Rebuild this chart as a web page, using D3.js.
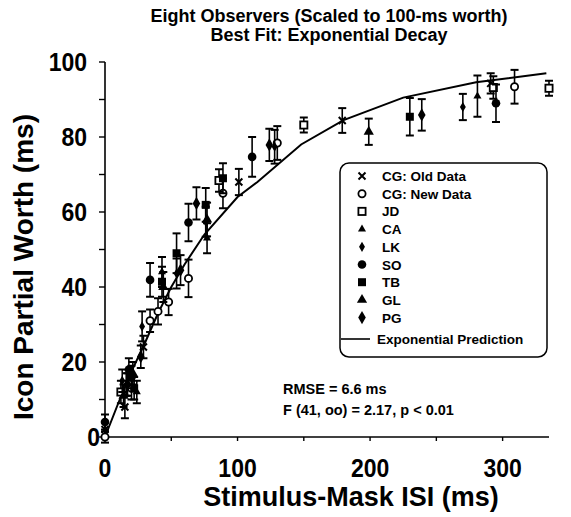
<!DOCTYPE html>
<html>
<head>
<meta charset="utf-8">
<script src="https://cdn.jsdelivr.net/npm/d3@7"></script>
<style>
  body { margin: 0; background: #fff; }
  svg { display: block; font-family: "Liberation Sans", Arial, Helvetica, sans-serif; }
</style>
</head>
<body>
<svg id="chart" width="571" height="517"></svg>
<script>
// Observers and their markers, in legend order
const observers = ["CG: Old Data", "CG: New Data", "JD", "CA", "LK", "SO", "TB", "GL", "PG"];
const markers   = ["cross", "openCircle", "openSquare", "smallTriangle", "smallDot", "dot", "square", "triangle", "diamond"];

// [ISI (ms), partial worth (ms), error half-width (ms)] per observer
const cgOld = [[0, 2, 2], [15, 8, 3], [29, 24, 3], [101, 68, 3.5], [179, 84.4, 3.3], [291, 94.3, 2.7]];
const cgNew = [[0, 0, 1.5], [20, 13, 3], [34, 31, 3], [40, 33.5, 3.5], [48, 36, 3.5], [63, 42.3, 5], [89, 65, 4], [130, 78.4, 4.5], [309, 93.4, 4.5]];
const jd    = [[12, 12, 3], [86, 68.4, 3], [150, 83.2, 2], [293, 93.2, 3], [335, 93, 2]];
const ca    = [[16, 14, 3], [24, 12, 3], [43, 44, 4], [77, 53, 4], [281, 90.9, 5.5]];
const lk    = [[13, 15, 3], [28, 29.5, 4], [54, 43.6, 4], [76, 57.4, 4], [128, 77.4, 4.5], [270, 88, 3.5]];
const so    = [[0, 4, 2], [18, 18, 3], [20, 16, 3], [34, 41.9, 4.5], [63, 57.2, 5], [111, 74.7, 5.3], [295, 89, 5]];
const tb    = [[22, 13, 3], [43, 41.4, 4], [54, 49, 5.3], [76, 61.9, 4.5], [89, 69, 4], [230, 85.4, 5]];
const gl    = [[14, 11, 3], [21, 17, 3], [44, 40, 4], [77, 58, 4.5], [199, 81.4, 3.5]];
const pg    = [[17, 14, 3], [27, 21.4, 3], [57, 44.5, 4], [69, 62.3, 4.3], [124, 77.9, 4.3], [239, 85.9, 4.2]];
const seriesValues = [cgOld, cgNew, jd, ca, lk, so, tb, gl, pg];

// Exponential prediction, [ISI, worth]
const prediction = [[0, 0], [10, 9], [20, 17.5], [30, 25], [40, 33], [50, 40], [60, 46], [75, 54], [100, 64],
                    [115, 68], [148, 78], [180, 84.5], [225, 90.5], [280, 94.6], [333, 97]];

const xTicks = [0, 100, 200, 300];
const xMinorTicks = [50, 150, 250];
const yTicks = [0, 20, 40, 60, 80, 100];
const yMinorTicks = [10, 30, 50, 70, 90];

const titleLines = ["Eight Observers (Scaled to 100-ms worth)", "Best Fit: Exponential Decay"];
const statsLines = ["RMSE = 6.6 ms", "F (41, oo) = 2.17, p < 0.01"];

const svg = d3.select("#chart");
const x = d3.scaleLinear().domain([0, 335]).range([105, 549]);
const y = d3.scaleLinear().domain([0, 100]).range([437, 62]);

// Title
svg.selectAll("text.title").data(titleLines).join("text")
  .attr("class", "title")
  .attr("x", 329).attr("y", (d, i) => 22 + i * 19)
  .attr("text-anchor", "middle")
  .attr("font-size", 18).attr("font-weight", "bold")
  .text(d => d);

// Axes
const g = svg.append("g");
g.append("line").attr("x1", x(0)).attr("x2", x(0)).attr("y1", y(0)).attr("y2", y(100))
  .attr("stroke", "#000").attr("stroke-width", 1.6);
g.append("line").attr("x1", x(0)).attr("x2", x(335)).attr("y1", y(0)).attr("y2", y(0))
  .attr("stroke", "#000").attr("stroke-width", 1.6);

g.selectAll("line.ytick").data(yTicks.concat(yMinorTicks)).join("line")
  .attr("x1", x(0) - 6).attr("x2", x(0)).attr("y1", d => y(d)).attr("y2", d => y(d))
  .attr("stroke", "#000").attr("stroke-width", 1.4);
g.selectAll("line.xtick").data(xTicks.concat(xMinorTicks)).join("line")
  .attr("x1", d => x(d)).attr("x2", d => x(d)).attr("y1", y(0)).attr("y2", y(0) + 4)
  .attr("stroke", "#000").attr("stroke-width", 1.4);

// Tick labels, slightly tall lettering
g.selectAll("text.ylab").data(yTicks).join("text")
  .attr("transform", d => `translate(${d === 0 ? x(0) - 5 : x(0) - 18},${y(d) + 9}) scale(1,1.15)`)
  .attr("text-anchor", "end").attr("font-size", 23).attr("font-weight", "bold")
  .text(d => d);
g.selectAll("text.xlab").data(xTicks).join("text")
  .attr("transform", d => `translate(${x(d)},477) scale(1,1.15)`)
  .attr("text-anchor", "middle").attr("font-size", 23).attr("font-weight", "bold")
  .text(d => d);

svg.append("text").attr("x", 351).attr("y", 506)
  .attr("text-anchor", "middle").attr("font-size", 27).attr("font-weight", "bold")
  .text("Stimulus-Mask ISI (ms)");
svg.append("text").attr("transform", "translate(33,267) rotate(-90)")
  .attr("text-anchor", "middle").attr("font-size", 28).attr("font-weight", "bold")
  .text("Icon Partial Worth (ms)");

// Exponential prediction curve
svg.append("path").datum(prediction)
  .attr("d", d3.line().x(d => x(d[0])).y(d => y(d[1])))
  .attr("fill", "none").attr("stroke", "#000").attr("stroke-width", 2);

// Marker drawing
function drawMarker(sel, type) {
  switch (type) {
    case "cross":
      sel.append("path").attr("d", "M-3.5,-3.5L3.5,3.5M-3.5,3.5L3.5,-3.5")
        .attr("stroke", "#000").attr("stroke-width", 2).attr("fill", "none");
      break;
    case "openCircle":
      sel.append("circle").attr("r", 3.6).attr("fill", "#fff").attr("stroke", "#000").attr("stroke-width", 1.8);
      break;
    case "openSquare":
      sel.append("rect").attr("x", -3.6).attr("y", -3.6).attr("width", 7.2).attr("height", 7.2)
        .attr("fill", "#fff").attr("stroke", "#000").attr("stroke-width", 1.8);
      break;
    case "smallTriangle":
      sel.append("path").attr("d", d3.symbol(d3.symbolTriangle, 28)()).attr("fill", "#000");
      break;
    case "smallDot":
      sel.append("path").attr("d", d3.symbol(d3.symbolDiamond, 30)()).attr("fill", "#000");
      break;
    case "dot":
      sel.append("circle").attr("r", 4.3).attr("fill", "#000");
      break;
    case "square":
      sel.append("rect").attr("x", -4).attr("y", -4).attr("width", 8).attr("height", 8).attr("fill", "#000");
      break;
    case "triangle":
      sel.append("path").attr("d", d3.symbol(d3.symbolTriangle, 45)()).attr("fill", "#000");
      break;
    case "diamond":
      sel.append("path").attr("d", d3.symbol(d3.symbolDiamond, 50)()).attr("fill", "#000");
      break;
  }
}

// Data points with error bars
seriesValues.forEach((vals, si) => {
  const sg = svg.append("g");
  const pts = sg.selectAll("g").data(vals).join("g");
  pts.append("line")
    .attr("x1", d => x(d[0])).attr("x2", d => x(d[0]))
    .attr("y1", d => y(d[1] - d[2])).attr("y2", d => y(d[1] + d[2]))
    .attr("stroke", "#000").attr("stroke-width", 1.6);
  [-1, 1].forEach(s => {
    pts.append("line")
      .attr("x1", d => x(d[0]) - 4).attr("x2", d => x(d[0]) + 4)
      .attr("y1", d => y(d[1] + s * d[2])).attr("y2", d => y(d[1] + s * d[2]))
      .attr("stroke", "#000").attr("stroke-width", 2);
  });
  pts.each(function(d) {
    const m = d3.select(this).append("g").attr("transform", `translate(${x(d[0])},${y(d[1])})`);
    drawMarker(m, markers[si]);
  });
});

// Legend
const lg = svg.append("g");
lg.append("rect").attr("x", 340).attr("y", 163).attr("width", 207).attr("height", 194)
  .attr("rx", 9).attr("fill", "#fff").attr("stroke", "#000").attr("stroke-width", 1.5);
observers.forEach((name, i) => {
  const yy = 176 + i * 17.7;
  const m = lg.append("g").attr("transform", `translate(362,${yy})`);
  drawMarker(m, markers[i]);
  lg.append("text").attr("x", 382).attr("y", yy + 5)
    .attr("font-size", 13.5).attr("font-weight", "bold").text(name);
});
lg.append("line").attr("x1", 341).attr("x2", 370).attr("y1", 339).attr("y2", 339)
  .attr("stroke", "#000").attr("stroke-width", 1.6);
lg.append("text").attr("x", 377).attr("y", 344)
  .attr("font-size", 13.5).attr("font-weight", "bold").text("Exponential Prediction");

// Fit statistics
svg.selectAll("text.stats").data(statsLines).join("text")
  .attr("x", 283).attr("y", (d, i) => 394 + i * 21)
  .attr("font-size", 14.5).attr("font-weight", "bold")
  .text(d => d);
</script>
</body>
</html>
